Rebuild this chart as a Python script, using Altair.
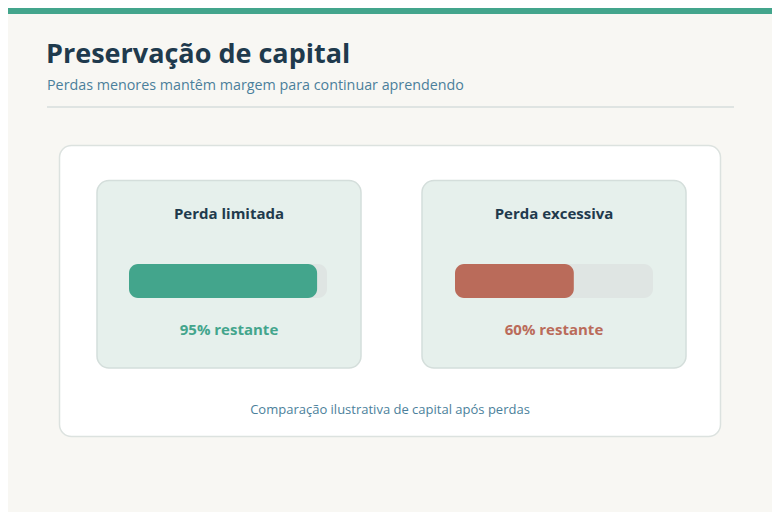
import altair as alt
import pandas as pd

# ---- data ----
categories = ["Perda limitada", "Perda excessiva"]
remaining = [95, 60]
remaining_labels = ["95% restante", "60% restante"]
bar_colors = ["#43a58c", "#ba6b5a"]
title_text = "Preservação de capital"
subtitle_text = "Perdas menores mantêm margem para continuar aprendendo"
caption_text = "Comparação ilustrativa de capital após perdas"

# ---- layout (page coordinates, page margin 8px) ----
M = 8
W, H = 780 - 2 * M, 520 - 2 * M
FONT = "Open Sans"
card_left = [97, 422]
card_w = 264
track_left = [129, 455]
track_w = 198


def p(v):
    return v - M


one = pd.DataFrame({"k": [0]})


def rect(x1, x2, y1, y2, **kw):
    return alt.Chart(one).mark_rect(**kw).encode(
        x=alt.value(p(x1)), x2=alt.value(p(x2)),
        y=alt.value(p(y1)), y2=alt.value(p(y2)))


def text(t, x, y, **kw):
    return alt.Chart(pd.DataFrame({"t": [t]})).mark_text(font=FONT, **kw).encode(
        text="t:N", x=alt.value(p(x)), y=alt.value(p(y)))


layers = []
# top accent bar
layers.append(alt.Chart(one).mark_rect(color="#43a58c").encode(
    x=alt.value(0), x2=alt.value(W), y=alt.value(0), y2=alt.value(6)))
layers.append(text(title_text, 46, 63, fontSize=27, fontWeight="bold",
                   color="#1f3a4d", align="left", baseline="alphabetic"))
layers.append(text(subtitle_text, 47, 90, fontSize=14.3, color="#4b7f9b",
                   align="left", baseline="alphabetic"))
layers.append(rect(47, 734, 106, 108, color="#dfe4e2"))
# white panel
layers.append(rect(59.5, 720.5, 145.5, 436.5, fill="#ffffff", stroke="#dce2df",
                   strokeWidth=1.5, cornerRadius=12))

for i, cat in enumerate(categories):
    cl = card_left[i]
    cx = cl + card_w / 2
    layers.append(rect(cl, cl + card_w, 180.5, 368, fill="#e6f0ec", stroke="#d4dedb",
                       strokeWidth=1.5, cornerRadius=12))
    layers.append(text(cat, cx, 219, fontSize=15, fontWeight="bold",
                       color="#1f3a4d", align="center", baseline="alphabetic"))
    df = pd.DataFrame({"cat": [cat], "rem": [remaining[i]], "full": [100], "zero": [0]})
    xs = alt.Scale(domain=[0, 100], range=[p(track_left[i]), p(track_left[i] + track_w)])
    base = alt.Chart(df)
    layers.append(base.mark_bar(color="#dfe5e3", cornerRadius=9).encode(
        x=alt.X("zero:Q", scale=xs, axis=None), x2="full:Q",
        y=alt.value(p(264)), y2=alt.value(p(298))))
    layers.append(base.mark_bar(color=bar_colors[i], cornerRadius=9).encode(
        x=alt.X("zero:Q", scale=xs, axis=None), x2="rem:Q",
        y=alt.value(p(264)), y2=alt.value(p(298))))
    layers.append(text(remaining_labels[i], cx, 335, fontSize=15, fontWeight="bold",
                       color=bar_colors[i], align="center", baseline="alphabetic"))

layers.append(text(caption_text, 390, 414, fontSize=13, color="#4b7f9b",
                   align="center", baseline="alphabetic"))

chart = alt.layer(*layers).resolve_scale(x="independent").properties(
    width=W, height=H, padding=0, autosize=alt.AutoSizeParams(type="none"),
    background="#f8f7f3"
).configure_view(stroke=None)

chart.save("out.html", embed_options={"renderer": "svg", "actions": False})
